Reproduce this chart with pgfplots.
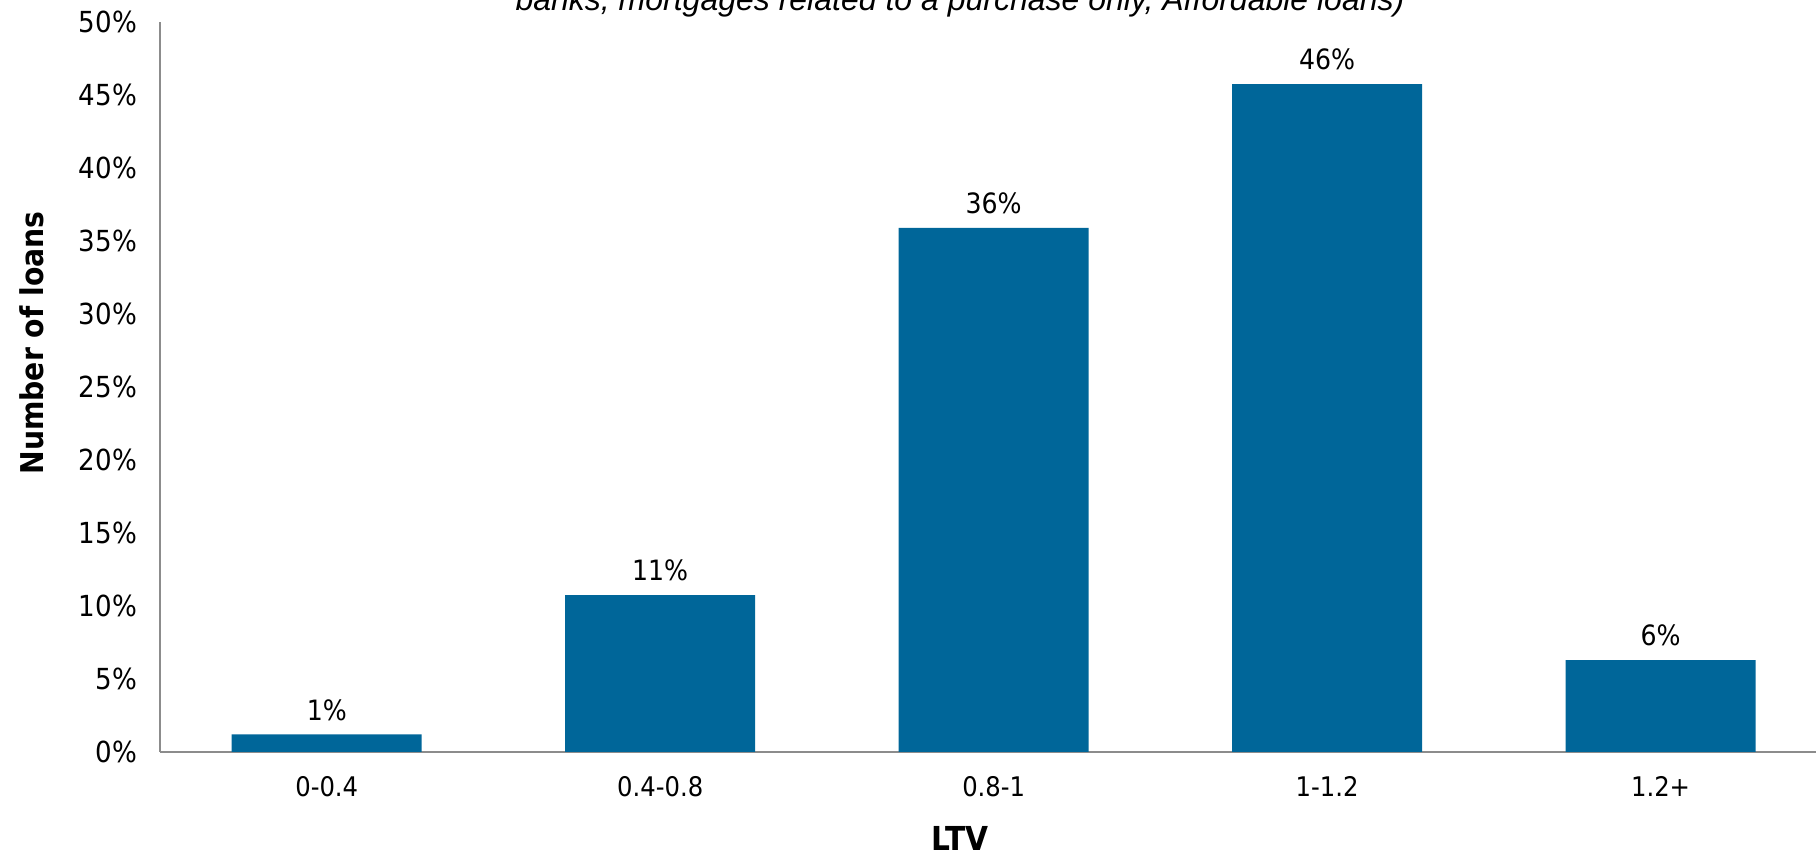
\documentclass[border=0pt]{standalone}
\usepackage{pgfplots}
\pgfplotsset{compat=1.18}
\usepackage{fontspec}
\setmainfont{DejaVu Sans Condensed}
\newfontfamily\titlefont{Liberation Sans}
\definecolor{barblue}{RGB}{0,102,153}
\definecolor{axisgray}{RGB}{140,140,140}
\begin{document}
\begin{tikzpicture}
\useasboundingbox (0,0) rectangle (908pt,428.5pt);
\clip (0,0) rectangle (908pt,428.5pt);
\begin{axis}[
  at={(80pt,52.5pt)}, anchor=south west,
  width=828pt, height=365pt, scale only axis,
  xmin=-0.5, xmax=4.466, ymin=0, ymax=50,
  axis lines*=left,
  axis line style={axisgray, line width=0.9pt},
  major tick length=0pt,
  xtick={0,1,2,3,4},
  xticklabels={0-0.4,0.4-0.8,0.8-1,1-1.2,1.2+},
  ytick={0,5,...,50},
  yticklabel={\pgfmathprintnumber[assume math mode=true]{\tick}\%},
  yticklabel style={font=\fontsize{14.5pt}{17pt}\selectfont, anchor=east, xshift=-8pt},
  xticklabel style={font=\fontsize{13.5pt}{16pt}\selectfont, anchor=north, yshift=-8.5pt},
  ybar, bar width=95pt,
  point meta=explicit symbolic,
  nodes near coords,
  every node near coord/.append style={font=\fontsize{14pt}{17pt}\selectfont, anchor=south, yshift=3.5pt},
]
\addplot[fill=barblue, draw=none] coordinates {
  (0,1.2) [1\%]
  (1,10.75) [11\%]
  (2,35.9) [36\%]
  (3,45.75) [46\%]
  (4,6.3) [6\%]
};
\end{axis}
\node[font=\fontsize{16.5pt}{19pt}\selectfont\bfseries] at (480pt,9.5pt) {LTV};
\node[font=\fontsize{15.7pt}{19pt}\selectfont\bfseries, rotate=90] at (16pt,257pt) {Number of loans};
\node[font=\titlefont\itshape\fontsize{16pt}{19pt}\selectfont, anchor=base] at (480pt,423.2pt) {banks, mortgages related to a purchase only, Affordable loans)};
\end{tikzpicture}
\end{document}
